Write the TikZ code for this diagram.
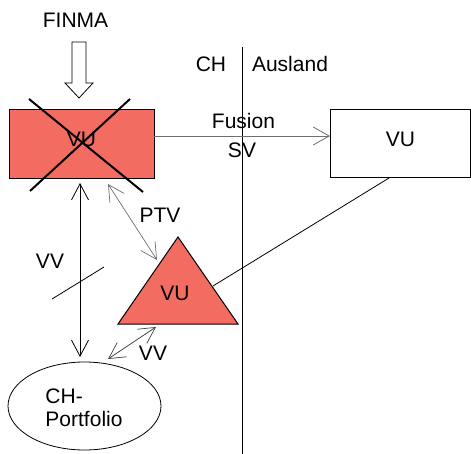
\documentclass[tikz,border=0pt]{standalone}
\usepackage{fontspec}
\setmainfont{Liberation Sans}
\usetikzlibrary{arrows.meta}
\definecolor{salmon}{RGB}{242,108,98}
\definecolor{arrgray}{RGB}{110,110,110}
\tikzset{
  lbl/.style={inner sep=0pt, font=\fontsize{21}{23}\selectfont},
  boxn/.style={draw=black, line width=1pt, inner sep=0pt},
  barb/.style={arrows={Straight Barb[length=16pt,width=17pt]-Straight Barb[length=16pt,width=17pt]}},
  barbend/.style={-{Straight Barb[length=16pt,width=18pt]}},
}
\begin{document}
\begin{tikzpicture}[x=1pt,y=-1pt]
\useasboundingbox (0,0) rectangle (471,454);
% boxes
\node[boxn, fill=salmon, minimum width=145pt, minimum height=69pt] (lvu) at (81.5,144.5) {};
\node[lbl] (lvut) at (81.5,139) {VU};
\node[boxn, fill=white, minimum width=140pt, minimum height=68pt] (rvu) at (400,144) {};
\node[lbl] (rvut) at (400.5,139.5) {VU};
% cross over left box
\coordinate (c1) at (29,99); \coordinate (c2) at (143,192);
\coordinate (c3) at (130,99); \coordinate (c4) at (30,191);
\draw[line width=2pt] (c1) -- (c2);
\draw[line width=2pt] (c3) -- (c4);
% FINMA and block arrow
\node[lbl] (finma) at (75.5,20.5) {FINMA};
\draw[line width=0.8pt, fill=white] (72,42) -- (86,42) -- (86,83) -- (93,83) -- (79,98) -- (65,83) -- (72,83) -- cycle;
% border line
\coordinate (vtop) at (242,47); \coordinate (vbot) at (242,454);
\draw[line width=1pt] (vtop) -- (vbot);
\node[lbl] (ch) at (211,64) {CH};
\node[lbl] (ausland) at (290,64) {Ausland};
% fusion arrow
\coordinate (fa) at (154,136); \coordinate (fb) at (330,136);
\draw[arrgray, line width=0.8pt, barbend] (fa) -- (fb);
\node[lbl] (fusion) at (243.5,120.5) {Fusion};
\node[lbl] (sv) at (242,150.5) {SV};
% triangle
\coordinate (ta) at (178,237); \coordinate (tl) at (118,324); \coordinate (tr) at (238,324);
\draw[line width=1pt, fill=salmon] (ta) -- (tr) -- (tl) -- cycle;
\node[lbl] (tvu) at (175,293) {VU};
% line from right box to triangle
\coordinate (rl1) at (389,178); \coordinate (rl2) at (213,286);
\draw[line width=0.8pt] (rl1) -- (rl2);
% PTV arrow
\coordinate (p1) at (108,184); \coordinate (p2) at (157,260);
\draw[arrgray, line width=0.7pt, barb] (p1) -- (p2);
\node[lbl] (ptv) at (160,215) {PTV};
% VV vertical arrow
\coordinate (v1) at (80,183); \coordinate (v2) at (80,357);
\draw[line width=0.8pt, barb] (v1) -- (v2);
\node[lbl] (vvl) at (50,261) {VV};
\coordinate (s1) at (52,299); \coordinate (s2) at (104,267);
\draw[line width=0.8pt] (s1) -- (s2);
% lower VV arrow
\coordinate (w1) at (156,327); \coordinate (w2) at (108,359);
\draw[arrgray!60!black, line width=0.7pt, barb] (w1) -- (w2);
\node[lbl] (vvr) at (153,353) {VV};
% ellipse
\draw[line width=0.8pt] (84.5,406) ellipse [x radius=76.5, y radius=44];
\node[lbl, align=left] (port) at (84,407.5) {CH-\\Portfolio};
\end{tikzpicture}
\end{document}
